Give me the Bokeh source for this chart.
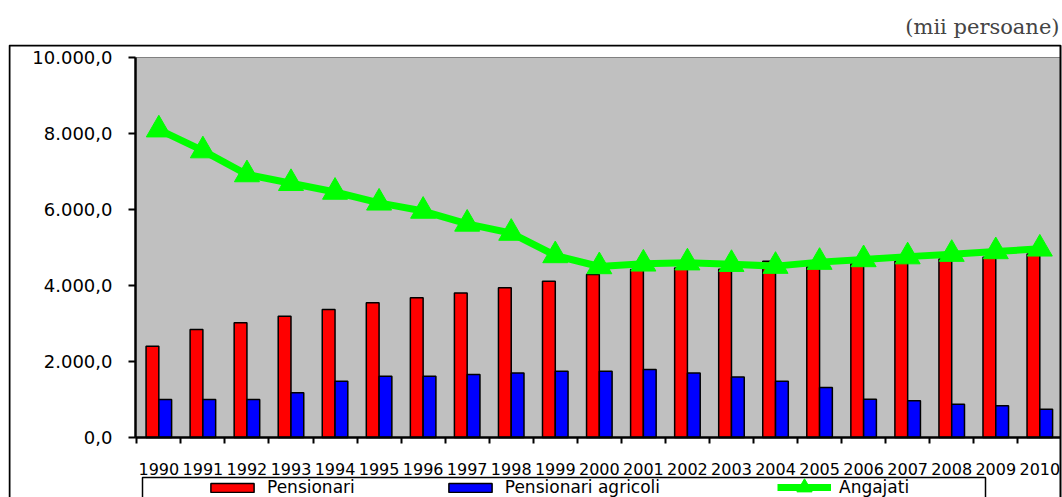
from bokeh.plotting import figure
from bokeh.models import (FixedTicker, Legend, LegendItem, BoxAnnotation, Title,
                          Range1d, ColumnDataSource)
from bokeh.transform import dodge
from bokeh.embed import file_html
from bokeh.resources import INLINE

years = list(range(1990, 2011))
pensionari = [2400, 2840, 3020, 3190, 3370, 3545, 3675, 3805, 3940, 4115, 4290,
              4420, 4460, 4430, 4640, 4490, 4580, 4640, 4700, 4745, 4830]
pensionari_agricoli = [1000, 1000, 1000, 1175, 1480, 1615, 1615, 1660, 1700, 1745, 1745,
                       1790, 1700, 1590, 1480, 1315, 1005, 965, 875, 835, 745]
angajati = [8100, 7550, 6920, 6690, 6460, 6175, 5960, 5620, 5380, 4790, 4500,
            4570, 4600, 4560, 4510, 4615, 4685, 4760, 4825, 4895, 4965]
y_ticks = [0, 2000, 4000, 6000, 8000, 10000]
y_tick_labels = ["0,0", "2.000,0", "4.000,0", "6.000,0", "8.000,0", "10.000,0"]
series_names = ["Pensionari", "Pensionari agricoli", "Angajati"]
unit_text = "(mii persoane)"

src = ColumnDataSource(dict(year=years, pens=pensionari, agr=pensionari_agricoli, ang=angajati))

# plot area in data units
X0, X1 = years[0] - 0.53, years[-1] + 0.47
Y0, Y1 = 0, 10000

# the figure frame is the outer chart box; the grey plot area sits inside it
p = figure(width=1062, height=497,
           x_range=Range1d(1986.587, 2010.515), y_range=Range1d(-1578.9, 10342.1),
           output_backend="svg", toolbar_location=None,
           min_border_left=8, min_border_right=0, min_border_top=44, min_border_bottom=0)
p.background_fill_color = "white"
p.border_fill_color = "white"
p.outline_line_alpha = 0
p.grid.visible = False

# grey plot area
p.quad(left=X0, right=X1, bottom=Y0, top=Y1, fill_color="#C0C0C0",
       line_color="#808080", line_width=1)

r_red = p.vbar(x=dodge("year", -0.145), top="pens", width=0.29, source=src,
               fill_color="#FF0000", line_color="black", line_width=1.5)
r_blue = p.vbar(x=dodge("year", 0.145), top="agr", width=0.29, source=src,
                fill_color="#0000FF", line_color="black", line_width=1.5)
r_line = p.line("year", "ang", source=src, line_color="#00FF00", line_width=7)
r_tri = p.scatter("year", "ang", source=src, marker="triangle", size=25,
                  fill_color="#00FF00", line_color="#00FF00")

# outer chart box (its bottom lies below the visible page)
p.add_layout(BoxAnnotation(left=1, right=1052, top=452, bottom=-100,
                           left_units="screen", right_units="screen",
                           top_units="screen", bottom_units="screen",
                           fill_alpha=0, line_color="black", line_alpha=1, line_width=2))
# legend box
p.add_layout(BoxAnnotation(left=134, right=977, top=20, bottom=-20,
                           left_units="screen", right_units="screen",
                           top_units="screen", bottom_units="screen",
                           fill_color="white", fill_alpha=1,
                           line_color="black", line_alpha=1, line_width=1.5))

# x axis
xa = p.xaxis[0]
xa.fixed_location = 0
xa.bounds = (X0, X1)
xa.ticker = FixedTicker(ticks=years, minor_ticks=[y - 0.5 for y in years])
xa.major_tick_out = 0
xa.major_tick_in = 0
xa.minor_tick_out = 6
xa.minor_tick_in = 0
xa.minor_tick_line_color = "black"
xa.minor_tick_line_width = 2
xa.axis_line_width = 2.5
xa.axis_line_color = "black"
xa.major_label_text_font = "DejaVu Sans"
xa.major_label_text_font_size = "16px"
xa.major_label_text_color = "black"
xa.major_label_standoff = 19

# y axis
ya = p.yaxis[0]
ya.fixed_location = X0
ya.bounds = (Y0, Y1)
ya.ticker = FixedTicker(ticks=y_ticks, minor_ticks=[])
ya.major_label_overrides = dict(zip(y_ticks, y_tick_labels))
ya.major_tick_out = 7
ya.major_tick_in = 0
ya.major_tick_line_width = 2
ya.major_tick_line_color = "black"
ya.axis_line_width = 2.5
ya.axis_line_color = "black"
ya.major_label_text_font = "DejaVu Sans"
ya.major_label_text_font_size = "18px"
ya.major_label_text_color = "black"
ya.major_label_standoff = 16

# unit caption
p.add_layout(Title(text=unit_text, align="right", text_font="DejaVu Serif",
                   text_font_size="21px", text_font_style="normal", standoff=11,
                   offset=3), "above")

legend_style = dict(orientation="horizontal", border_line_alpha=0, background_fill_alpha=0,
                    padding=0, margin=0, label_standoff=8, glyph_width=54,
                    label_text_font="DejaVu Sans", label_text_font_size="17px",
                    label_text_color="black")
legend_bars = Legend(items=[LegendItem(label=series_names[0], renderers=[r_red]),
                            LegendItem(label=series_names[1], renderers=[r_blue])],
                     location=(197, 0), spacing=88, glyph_height=11, label_height=11,
                     **legend_style)
legend_line = Legend(items=[LegendItem(label=series_names[2], renderers=[r_line, r_tri])],
                     location=(769, -9), glyph_height=38, label_height=11,
                     **legend_style)
p.add_layout(legend_bars)
p.add_layout(legend_line)

open("out.html", "w").write(file_html(p, INLINE))
